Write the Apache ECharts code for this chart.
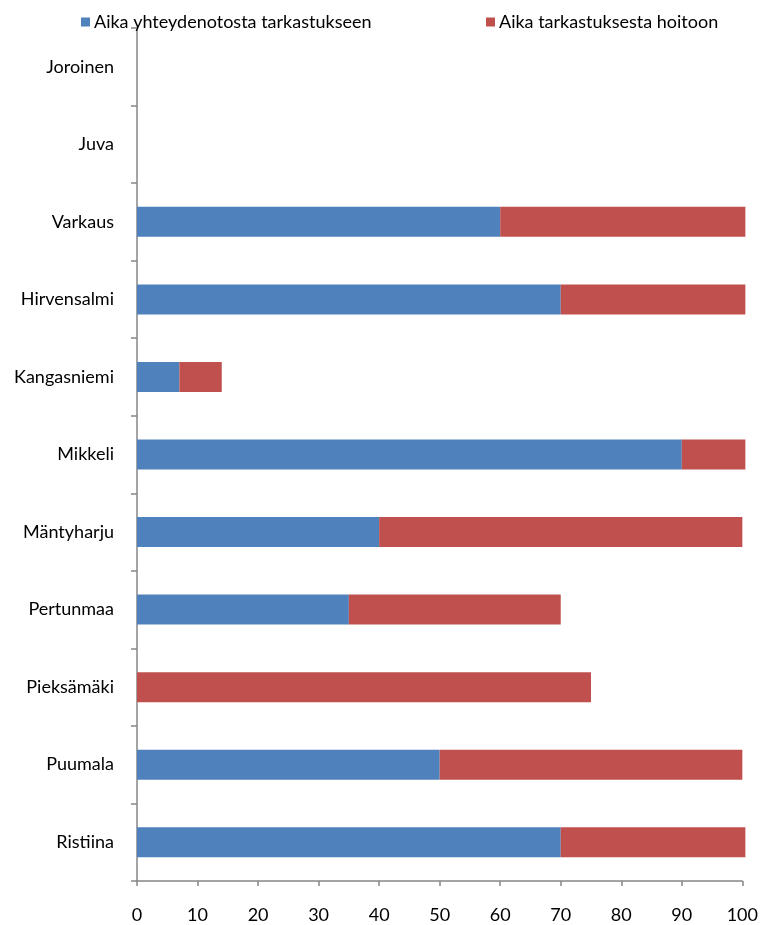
<!DOCTYPE html>
<html><head><meta charset="utf-8">
<script src="https://cdn.jsdelivr.net/npm/echarts@6/dist/echarts.min.js"></script>
<style>html,body{margin:0;padding:0;background:#fff}#c{width:761px;height:925px}</style>
</head><body><div id="c"></div>
<script>
const categories = ['Ristiina','Puumala','Pieksämäki','Pertunmaa','Mäntyharju','Mikkeli','Kangasniemi','Hirvensalmi','Varkaus','Juva','Joroinen'];
const seriesNames = ['Aika yhteydenotosta tarkastukseen','Aika tarkastuksesta hoitoon'];
const contactToExam = [70, 50, 0, 35, 40, 90, 7, 70, 60, null, null];
const examToTreatment = [30.5, 50, 75, 35, 60, 10.5, 7, 30.5, 40.5, null, null];
const xTicks = [0,10,20,30,40,50,60,70,80,90,100];

const font = 'Lato, "Open Sans", sans-serif';
const chart = echarts.init(document.getElementById('c'), null, {renderer:'canvas'});
chart.setOption({
  animation:false,
  backgroundColor:'#fff',
  textStyle:{fontFamily:font},
  legend:[
    {data:[seriesNames[0]], left:76, top:8, itemWidth:9, itemHeight:9, icon:'rect', itemGap:0,
     textStyle:{fontSize:18, color:'#000', fontFamily:font, padding:[0,0,0,-1]}},
    {data:[seriesNames[1]], left:481, top:8, itemWidth:9, itemHeight:9, icon:'rect', itemGap:0,
     textStyle:{fontSize:18, color:'#000', fontFamily:font, padding:[0,0,0,-1]}}
  ],
  grid:{left:137, right:18, top:28, bottom:44, containLabel:false},
  xAxis:{type:'value', min:xTicks[0], max:xTicks[xTicks.length-1], interval:10,
    splitLine:{show:false},
    axisLine:{show:true, lineStyle:{color:'#868686', width:1.5}},
    axisTick:{show:true, inside:false, length:5, lineStyle:{color:'#868686', width:1.5}},
    axisLabel:{fontSize:18, color:'#000', margin:25, fontFamily:font}},
  yAxis:{type:'category', data:categories,
    axisLine:{show:true, lineStyle:{color:'#868686', width:1.5}},
    axisTick:{show:true, length:6, lineStyle:{color:'#868686', width:1.5}},
    axisLabel:{fontSize:18, color:'#000', margin:23, fontFamily:font}},
  series:[
    {name:seriesNames[0], type:'bar', stack:'t', data:contactToExam, barWidth:30, clip:false,
     itemStyle:{color:'#4F81BD'}},
    {name:seriesNames[1], type:'bar', stack:'t', data:examToTreatment, barWidth:30, clip:false,
     itemStyle:{color:'#C0504D'}}
  ]
});
</script></body></html>
